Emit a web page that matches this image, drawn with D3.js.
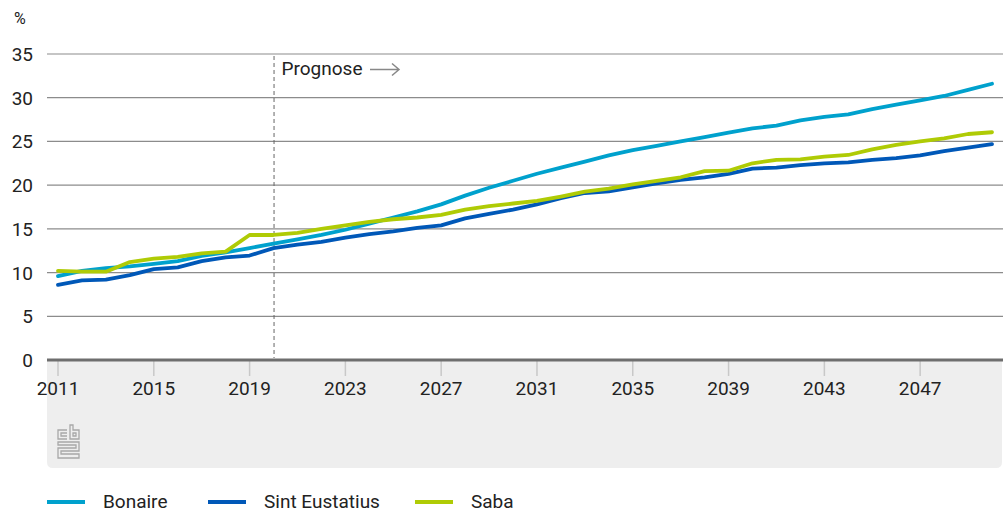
<!DOCTYPE html>
<meta charset="utf-8">
<style>
  body { margin: 0; background: #fff; }
  text { font-family: Roboto, "Open Sans", sans-serif; fill: #222; }
</style>
<body>
<script src="https://cdn.jsdelivr.net/npm/d3@7"></script>
<script>

var years = d3.range(2011, 2051);

var bonaire = [9.6, 10.2, 10.5, 10.7, 11.0, 11.3, 11.9, 12.3, 12.8, 13.3,
               13.8, 14.3, 14.9, 15.6, 16.3, 17.0, 17.8, 18.8, 19.7, 20.5,
               21.3, 22.0, 22.7, 23.4, 24.0, 24.5, 25.0, 25.5, 26.0, 26.5,
               26.8, 27.4, 27.8, 28.1, 28.7, 29.2, 29.7, 30.2, 30.9, 31.6];

var sintEustatius = [8.6, 9.1, 9.2, 9.7, 10.4, 10.6, 11.3, 11.75, 11.95, 12.8,
                     13.2, 13.5, 14.0, 14.4, 14.7, 15.1, 15.4, 16.2, 16.7, 17.2,
                     17.8, 18.5, 19.1, 19.3, 19.75, 20.2, 20.6, 20.9, 21.3, 21.9,
                     22.0, 22.3, 22.5, 22.6, 22.9, 23.1, 23.4, 23.9, 24.3, 24.7];

var saba = [10.2, 10.1, 10.1, 11.2, 11.6, 11.8, 12.2, 12.4, 14.3, 14.3,
            14.55, 15.0, 15.4, 15.8, 16.1, 16.3, 16.6, 17.2, 17.6, 17.9,
            18.2, 18.7, 19.25, 19.6, 20.1, 20.5, 20.9, 21.6, 21.65, 22.5,
            22.9, 22.95, 23.25, 23.45, 24.1, 24.6, 25.0, 25.35, 25.85, 26.05];

var seriesNames = ["Bonaire", "Sint Eustatius", "Saba"];
var seriesColors = ["#00a1cd", "#0058b8", "#afcb05"];
var yTicks = [0, 5, 10, 15, 20, 25, 30, 35];
var xTicks = [2011, 2015, 2019, 2023, 2027, 2031, 2035, 2039, 2043, 2047];
var prognoseYear = 2020;

var width = 1003, height = 513;
var plotLeft = 47, plotRight = 1003, plotTop = 54, plotBottom = 360;

var svg = d3.select("body").append("svg")
    .attr("width", width)
    .attr("height", height);

var x = d3.scaleLinear().domain([2011, 2050]).range([58, 992]);
var y = d3.scaleLinear().domain([0, 35]).range([plotBottom, plotTop]);

// grey panel under the axis
svg.append("path")
    .attr("fill", "#eeeeee")
    .attr("d", "M" + plotLeft + "," + plotBottom + "H" + (plotRight - 1) + "V" + 462 +
      "q0,6 -6,6H" + (plotLeft + 6) + "q-6,0 -6,-6Z");

// gridlines
svg.append("g").selectAll("line")
  .data(yTicks.filter(d => d > 0))
  .enter().append("line")
    .attr("x1", plotLeft).attr("x2", plotRight)
    .attr("y1", d => y(d)).attr("y2", d => y(d))
    .attr("stroke", "#8c8c8c")
    .attr("stroke-width", 1.2);

// y labels
svg.append("g").selectAll("text")
  .data(yTicks)
  .enter().append("text")
    .attr("x", 33)
    .attr("y", d => y(d) + 7)
    .attr("text-anchor", "end")
    .style("font-size", "19px")
    .text(d => d);

svg.append("text")
    .attr("x", 14).attr("y", 24)
    .style("font-size", "16px")
    .text("%");

// x ticks
svg.append("g").selectAll("line")
  .data(xTicks)
  .enter().append("line")
    .attr("x1", d => x(d)).attr("x2", d => x(d))
    .attr("y1", plotBottom).attr("y2", 376)
    .attr("stroke", "#c8c8c8")
    .attr("stroke-width", 1.5);

svg.append("g").selectAll("text")
  .data(xTicks)
  .enter().append("text")
    .attr("x", d => x(d))
    .attr("y", 395)
    .attr("text-anchor", "middle")
    .style("font-size", "19px")
    .text(d => d);

// axis line
svg.append("line")
    .attr("x1", plotLeft).attr("x2", plotRight)
    .attr("y1", plotBottom).attr("y2", plotBottom)
    .attr("stroke", "#6e6e6e")
    .attr("stroke-width", 3);

// prognose marker
svg.append("line")
    .attr("x1", x(prognoseYear) + 0.5).attr("x2", x(prognoseYear) + 0.5)
    .attr("y1", plotTop + 2).attr("y2", plotBottom - 2)
    .attr("stroke", "#666")
    .attr("stroke-dasharray", "4,3");

svg.append("text")
    .attr("x", x(prognoseYear) + 8).attr("y", 75)
    .style("font-size", "19px")
    .text("Prognose");

svg.append("path")
    .attr("d", "M370,69.5H399M392,63.5L399,69.5L392,75.5")
    .attr("fill", "none")
    .attr("stroke", "#888")
    .attr("stroke-width", 1.5);

// lines
var line = d3.line()
    .x((d, i) => x(years[i]))
    .y(d => y(d));

var allSeries = [bonaire, sintEustatius, saba];
svg.append("g").selectAll("path")
  .data(allSeries)
  .enter().append("path")
    .attr("d", line)
    .attr("fill", "none")
    .attr("stroke", (d, i) => seriesColors[i])
    .attr("stroke-width", 3.8)
    .attr("stroke-linecap", "round")
    .attr("stroke-linejoin", "round");

// cbs logo
var logo = svg.append("g")
    .attr("transform", "translate(58,425)")
    .attr("fill", "none")
    .attr("stroke", "#a8a8a8")
    .attr("stroke-width", 1.3);
logo.append("path").attr("d", "M9,5H0V14H9 M9,8H3V11H9");
logo.append("path").attr("d", "M12,0V14H21V5H15V0Z M15,8H18V11H15Z");
logo.append("path").attr("d", "M0,17H21V26H3V29H21V33H0V23H18V20H0Z");

// legend
var legend = svg.append("g").selectAll("g")
  .data(seriesNames)
  .enter().append("g")
    .attr("transform", (d, i) => "translate(" + [47, 208, 415][i] + ",0)");

legend.append("line")
    .attr("x1", 0).attr("x2", 38)
    .attr("y1", 502).attr("y2", 502)
    .attr("stroke", (d, i) => seriesColors[i])
    .attr("stroke-width", 4);

legend.append("text")
    .attr("x", 56).attr("y", 508)
    .style("font-size", "19px")
    .text(d => d);

</script>
